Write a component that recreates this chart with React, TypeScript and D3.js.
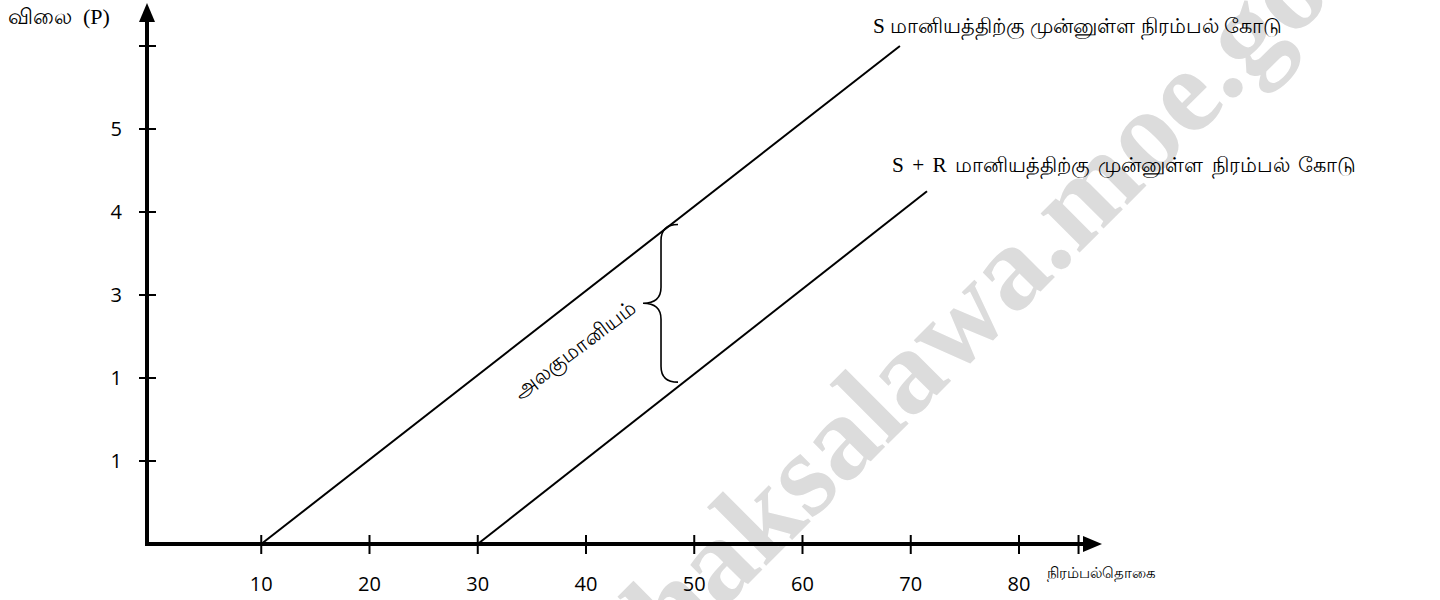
import React from "react";
import * as d3 from "d3";

// ---- data ----
const xTickValues = [10, 20, 30, 40, 50, 60, 70, 80, 85.5];
const xTickLabels = ["10", "20", "30", "40", "50", "60", "70", "80", ""];
const yTickValues = [1, 2, 3, 4, 5, 6];
const yTickLabels = ["1", "1", "3", "4", "5", ""];

const supplyS = [
  { q: 10, p: 0 },
  { q: 69, p: 6 },
];
const supplySR = [
  { q: 30, p: 0 },
  { q: 71.5, p: 4.25 },
];
const subsidyBrace = { q: 48.5, pLow: 1.95, pHigh: 3.85 };

const labelS = "S மானியத்திற்கு முன்னுள்ள நிரம்பல் கோடு";
const labelSR = "S + R மானியத்திற்கு முன்னுள்ள நிரம்பல் கோடு";
const braceLabel = "அலகுமானியம்";
const yTitle = "விலை  (P)";
const xTitle = "நிரம்பல்தொகை";
const watermark = "e-thaksalawa.moe.gov.lk";

// ---- layout ----
const W = 1440;
const H = 600;
const axisX = 147;
const axisY = 544;
const serif = "'Liberation Serif', 'Times New Roman', serif";
const sans = "'Open Sans', 'Noto Sans', sans-serif";

export default function App() {
  const x = d3.scaleLinear().domain([0, 80]).range([153, 1019]);
  const y = d3.scaleLinear().domain([0, 6]).range([axisY, 46]);
  const line = d3
    .line<{ q: number; p: number }>()
    .x((d) => x(d.q))
    .y((d) => y(d.p));

  // brace
  const bx = x(subsidyBrace.q);
  const yTop = y(subsidyBrace.pHigh);
  const yBot = y(subsidyBrace.pLow);
  const yMid = (yTop + yBot) / 2;
  const xm = bx - 17;
  const xl = bx - 35;
  const r = 16;
  const bracePath = `M${bx},${yTop} Q${xm},${yTop} ${xm},${yTop + r} L${xm},${yMid - r} Q${xm},${yMid} ${xl},${yMid} Q${xm},${yMid} ${xm},${yMid + r} L${xm},${yBot - r} Q${xm},${yBot} ${bx},${yBot}`;

  return (
    <svg
      width={W}
      height={H}
      style={{ position: "absolute", left: 0, top: 0, background: "#fff" }}
    >
      {/* watermark */}
      <text
        transform="translate(580,752) rotate(-45)"
        fontFamily="'Liberation Serif', serif"
        fontWeight="bold"
        fontSize={120}
        fill="#dcdcdc"
      >
        {watermark}
      </text>

      {/* axes */}
      <line x1={axisX} y1={axisY + 2} x2={axisX} y2={16} stroke="#000" strokeWidth={4} />
      <path d={`M${axisX},3 L${axisX - 8},22 L${axisX + 8},22 Z`} fill="#000" />
      <line x1={axisX - 2} y1={axisY} x2={1088} y2={axisY} stroke="#000" strokeWidth={4} />
      <path d={`M1102,${axisY} L1083,${axisY - 8} L1083,${axisY + 8} Z`} fill="#000" />

      {/* y ticks */}
      {yTickValues.map((v, i) => (
        <g key={"y" + i}>
          <line x1={axisX - 8} x2={axisX + 9} y1={y(v)} y2={y(v)} stroke="#000" strokeWidth={2} />
          <text
            x={122}
            y={y(v)}
            dy="0.36em"
            textAnchor="end"
            fontFamily={sans}
            fontSize={20}
          >
            {yTickLabels[i]}
          </text>
        </g>
      ))}

      {/* x ticks */}
      {xTickValues.map((v, i) => (
        <g key={"x" + i}>
          <line x1={x(v)} x2={x(v)} y1={axisY - 9} y2={axisY + 10} stroke="#000" strokeWidth={2} />
          <text x={x(v)} y={591} textAnchor="middle" fontFamily={sans} fontSize={20}>
            {xTickLabels[i]}
          </text>
        </g>
      ))}

      {/* supply lines */}
      <path d={line(supplyS) || ""} stroke="#000" strokeWidth={2} fill="none" />
      <path d={line(supplySR) || ""} stroke="#000" strokeWidth={2} fill="none" />

      {/* brace */}
      <path d={bracePath} stroke="#000" strokeWidth={1.6} fill="none" />
      <text
        transform={`translate(${xl - 64},${yMid + 52}) rotate(-37)`}
        textAnchor="middle"
        fontFamily={serif}
        fontSize={21}
      >
        {braceLabel}
      </text>

      {/* labels */}
      <text x={873} y={33} fontFamily={serif} fontSize={21.3}>
        {labelS}
      </text>
      <text x={892} y={172} fontFamily={serif} fontSize={21.3} wordSpacing={3}>
        {labelSR}
      </text>
      <text x={8} y={24} fontFamily={serif} fontSize={22} xmlSpace="preserve">
        {yTitle}
      </text>
      <text x={1047} y={578} fontFamily={serif} fontSize={15}>
        {xTitle}
      </text>
    </svg>
  );
}
